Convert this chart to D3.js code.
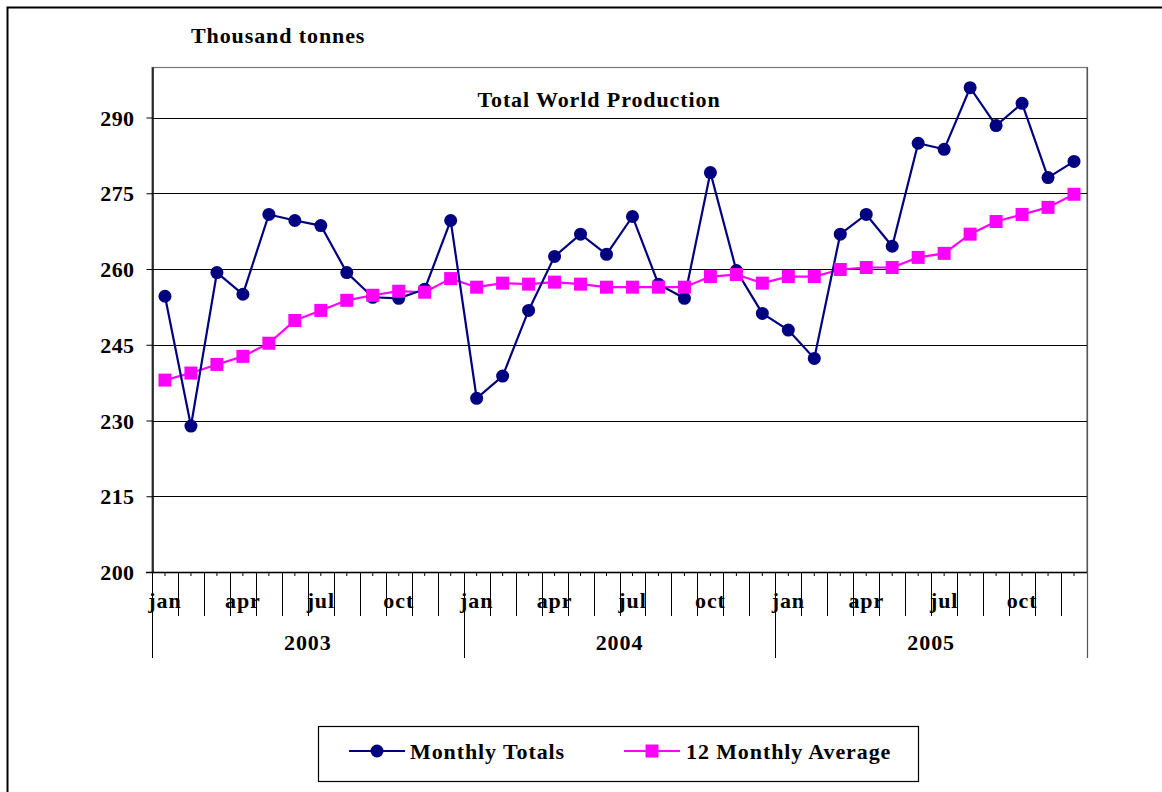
<!DOCTYPE html>
<html>
<head>
<meta charset="utf-8">
<script src="https://cdn.jsdelivr.net/npm/d3@7"></script>
<style>
  body { margin: 0; background: #fff; }
  text { font-family: "Liberation Serif", "Times New Roman", serif; font-weight: bold; fill: #000; }
</style>
</head>
<body>
<div id="chart-area"></div>
<script>
// data
var years = ["2003", "2004", "2005"];
var months = ["jan", "feb", "mar", "apr", "may", "jun", "jul", "aug", "sep", "oct", "nov", "dec"];
var shownMonths = ["jan", "apr", "jul", "oct"];
var monthlyTotals = [
    254.6, 228.9, 259.3, 255.0, 270.8, 269.6, 268.6, 259.3, 254.4, 254.2, 256.0, 269.6,
    234.4, 238.8, 251.8, 262.5, 266.9, 262.9, 270.4, 257.0, 254.2, 279.1, 259.7, 251.2,
    247.9, 242.3, 266.9, 270.8, 264.5, 284.9, 283.7, 295.9, 288.4, 292.8, 278.1, 281.3
];
var movingAverage = [
    238.0, 239.4, 241.1, 242.7, 245.3, 249.8, 251.8, 253.8, 254.8, 255.6, 255.4, 258.1,
    256.4, 257.2, 257.0, 257.4, 257.0, 256.4, 256.4, 256.4, 256.4, 258.5, 258.9, 257.2,
    258.5, 258.5, 259.9, 260.3, 260.3, 262.3, 263.1, 266.9, 269.4, 270.8, 272.2, 274.8
];
var yTicks = [200, 215, 230, 245, 260, 275, 290];

var keys = [];
years.forEach(function(y) {
    months.forEach(function(m) { keys.push(y + "-" + m); });
});

var W = 1162, H = 792;
var plotL = 152, plotR = 1087, plotT = 67, plotB = 572;
var ls = "0.9px"; // letter spacing like the old Excel rendering

var svg = d3.select("#chart-area").append("svg")
    .attr("width", W)
    .attr("height", H);

// outer chart frame (runs off the right and bottom edge)
svg.append("rect")
    .attr("x", 7.5).attr("y", 7.5)
    .attr("width", 1200).attr("height", 900)
    .attr("fill", "none").attr("stroke", "#000").attr("stroke-width", 2);

var x = d3.scaleBand().domain(keys).range([plotL, plotR]);
var y = d3.scaleLinear().domain([200, 300]).range([plotB, plotT]);

// plot frame
svg.append("rect")
    .attr("x", plotL).attr("y", plotT + 0.5)
    .attr("width", plotR - plotL).attr("height", plotB - plotT)
    .attr("fill", "none").attr("stroke", "#777").attr("stroke-width", 1.2);

// gridlines
svg.append("g")
    .selectAll("line")
    .data(yTicks.slice(1))
    .enter().append("line")
    .attr("x1", plotL).attr("x2", plotR)
    .attr("y1", function(d) { return Math.round(y(d)) + 0.5; })
    .attr("y2", function(d) { return Math.round(y(d)) + 0.5; })
    .attr("stroke", "#000").attr("stroke-width", 1.2);

// y axis
var yAxis = svg.append("g")
    .attr("transform", "translate(" + (plotL + 0.5) + ",0)")
    .call(d3.axisLeft(y).tickValues(yTicks).tickSize(6).tickPadding(12).tickSizeOuter(0));
yAxis.select(".domain").attr("stroke", "#000").attr("stroke-width", 1.5);
yAxis.selectAll("line").attr("stroke", "#000");
yAxis.selectAll("text")
    .attr("font-size", "22px")
    .attr("font-family", "Liberation Serif, Times New Roman, serif")
    .attr("font-weight", "bold")
    .attr("letter-spacing", "0.4px")
    .attr("dy", "0.35em");

// x axis line
svg.append("line")
    .attr("x1", plotL - 6).attr("x2", plotR)
    .attr("y1", plotB + 0.5).attr("y2", plotB + 0.5)
    .attr("stroke", "#000").attr("stroke-width", 1.5);

// small ticks at each month centre
svg.append("g").selectAll("line")
    .data(keys)
    .enter().append("line")
    .attr("x1", function(d) { return x(d) + x.bandwidth() / 2; })
    .attr("x2", function(d) { return x(d) + x.bandwidth() / 2; })
    .attr("y1", plotB).attr("y2", plotB + 4)
    .attr("stroke", "#000");

// month separators
svg.append("g").selectAll("line")
    .data(keys)
    .enter().append("line")
    .attr("x1", function(d) { return Math.round(x(d)) + 0.5; })
    .attr("x2", function(d) { return Math.round(x(d)) + 0.5; })
    .attr("y1", plotB)
    .attr("y2", function(d) { return d.slice(5) == "jan" ? 658 : 616; })
    .attr("stroke", "#000");
svg.append("line")
    .attr("x1", plotR + 0.5).attr("x2", plotR + 0.5)
    .attr("y1", plotT).attr("y2", 658)
    .attr("stroke", "#555").attr("stroke-width", 1.2);

// month labels
svg.append("g").selectAll("text")
    .data(keys.filter(function(d) { return shownMonths.indexOf(d.slice(5)) >= 0; }))
    .enter().append("text")
    .attr("x", function(d) { return x(d) + x.bandwidth() / 2; })
    .attr("y", 608)
    .attr("text-anchor", "middle")
    .attr("font-size", "22px")
    .attr("letter-spacing", ls)
    .text(function(d) { return d.slice(5); });

// year labels
svg.append("g").selectAll("text")
    .data(years)
    .enter().append("text")
    .attr("x", function(d) { return (x(d + "-jan") + x(d + "-dec") + x.bandwidth()) / 2; })
    .attr("y", 650)
    .attr("text-anchor", "middle")
    .attr("font-size", "22px")
    .attr("letter-spacing", ls)
    .text(function(d) { return d; });

// titles
svg.append("text")
    .attr("x", 191).attr("y", 43)
    .attr("font-size", "22px").attr("letter-spacing", ls)
    .text("Thousand tonnes");
svg.append("text")
    .attr("x", 599).attr("y", 107)
    .attr("text-anchor", "middle")
    .attr("font-size", "22px").attr("letter-spacing", ls)
    .text("Total World Production");

var cx = function(d, i) { return x(keys[i]) + x.bandwidth() / 2; };

var line = d3.line()
    .x(function(d, i) { return cx(d, i); })
    .y(function(d) { return y(d); });

// 12 monthly average
svg.append("path")
    .datum(movingAverage)
    .attr("d", line)
    .attr("fill", "none").attr("stroke", "#ff00ff").attr("stroke-width", 2.2);

// monthly totals
svg.append("path")
    .datum(monthlyTotals)
    .attr("d", line)
    .attr("fill", "none").attr("stroke", "#000080").attr("stroke-width", 2.2);

svg.append("g").selectAll("circle")
    .data(monthlyTotals)
    .enter().append("circle")
    .attr("cx", cx)
    .attr("cy", function(d) { return y(d); })
    .attr("r", 6.5)
    .attr("fill", "#000080");

svg.append("g").selectAll("rect")
    .data(movingAverage)
    .enter().append("rect")
    .attr("x", function(d, i) { return cx(d, i) - 6.5; })
    .attr("y", function(d) { return y(d) - 6.5; })
    .attr("width", 13).attr("height", 13)
    .attr("fill", "#ff00ff");

// legend
var legend = svg.append("g");
legend.append("rect")
    .attr("x", 318.5).attr("y", 726.5)
    .attr("width", 600).attr("height", 55)
    .attr("fill", "#fff").attr("stroke", "#000").attr("stroke-width", 1.2);

legend.append("line")
    .attr("x1", 349).attr("x2", 405).attr("y1", 751).attr("y2", 751)
    .attr("stroke", "#000080").attr("stroke-width", 2.2);
legend.append("circle")
    .attr("cx", 377).attr("cy", 751).attr("r", 6.5).attr("fill", "#000080");
legend.append("text")
    .attr("x", 410).attr("y", 759)
    .attr("font-size", "22px").attr("letter-spacing", ls)
    .text("Monthly Totals");

legend.append("line")
    .attr("x1", 624).attr("x2", 680).attr("y1", 751).attr("y2", 751)
    .attr("stroke", "#ff00ff").attr("stroke-width", 2.2);
legend.append("rect")
    .attr("x", 645.5).attr("y", 744.5).attr("width", 13).attr("height", 13)
    .attr("fill", "#ff00ff");
legend.append("text")
    .attr("x", 686).attr("y", 759)
    .attr("font-size", "22px").attr("letter-spacing", ls)
    .text("12 Monthly Average");
</script>
</body>
</html>
